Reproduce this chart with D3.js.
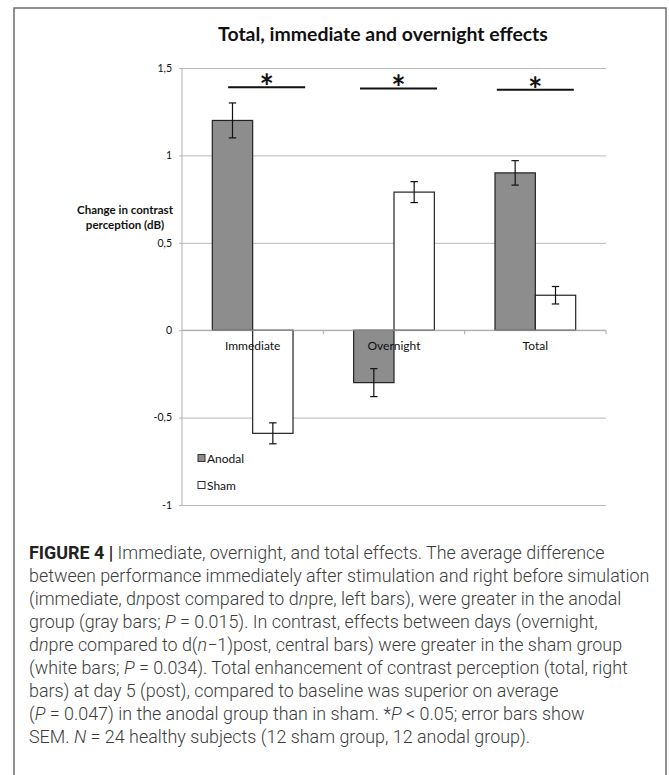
<!DOCTYPE html>
<meta charset="utf-8">
<style>
  html, body { margin: 0; padding: 0; background: #fff; }
  svg { display: block; }
  .chart text { font-family: Lato, "Open Sans", sans-serif; fill: #111; }
  .caption text { font-family: Roboto, "Liberation Sans", sans-serif; fill: #3c3c3c; }
</style>
<body>
<svg id="main" width="669" height="775"></svg>
<script src="https://cdn.jsdelivr.net/npm/d3@7"></script>
<script>

  // data
  const categories = ["Immediate", "Overnight", "Total"];
  const series = ["Anodal", "Sham"];
  const anodal = [1.2, -0.3, 0.9];
  const anodalErr = [0.1, 0.08, 0.07];
  const sham = [-0.59, 0.79, 0.2];
  const shamErr = [0.06, 0.06, 0.05];
  const yTicks = [-1, -0.5, 0, 0.5, 1, 1.5];
  const yTickLabels = ["-1", "-0,5", "0", "0,5", "1", "1,5"];
  const sigLevel = [1.39, 1.383, 1.375];
  const sigShift = [14, 4.5, 0];

  const title = "Total, immediate and overnight effects";
  const yLabel = ["Change in contrast", "perception (dB)"];

  // caption lines: [text, style] with style b = bold, i = italic
  const caption = [
    [["FIGURE 4 |", "b"], [" Immediate, overnight, and total effects. The average difference"]],
    [["between performance immediately after stimulation and right before simulation"]],
    [["(immediate, d"], ["n", "i"], ["post compared to d"], ["n", "i"], ["pre, left bars), were greater in the anodal"]],
    [["group (gray bars; "], ["P", "i"], [" = 0.015). In contrast, effects between days (overnight,"]],
    [["d"], ["n", "i"], ["pre compared to d("], ["n", "i"], ["\u22121)post, central bars) were greater in the sham group"]],
    [["(white bars; "], ["P", "i"], [" = 0.034). Total enhancement of contrast perception (total, right"]],
    [["bars) at day 5 (post), compared to baseline was superior on average"]],
    [["("], ["P", "i"], [" = 0.047) in the anodal group than in sham. *"], ["P", "i"], [" < 0.05; error bars show"]],
    [["SEM. "], ["N", "i"], [" = 24 healthy subjects (12 sham group, 12 anodal group)."]]
  ];

  const svg = d3.select("#main");

  // outer frame (open at the bottom of the window)
  svg.append("rect")
    .attr("x", 14).attr("y", 8)
    .attr("width", 652).attr("height", 820)
    .attr("fill", "#fff")
    .attr("stroke", "#6e6e6e")
    .attr("stroke-width", 1.5);

  const plotL = 182, plotR = 606, plotT = 68, plotB = 505;

  const y = d3.scaleLinear().domain([-1, 1.5]).range([plotB, plotT]);
  const x0 = d3.scaleBand().domain(categories).range([plotL, plotR]);
  const x1 = d3.scaleBand().domain(series).range([0, 80.7]);
  const off = (x0.bandwidth() - x1.range()[1]) / 2;

  const chart = svg.append("g").attr("class", "chart");

  // gridlines + y ticks
  chart.append("g")
    .attr("transform", `translate(${plotL},0)`)
    .call(d3.axisLeft(y).tickValues(yTicks).tickSize(-(plotR - plotL)).tickPadding(6)
      .tickFormat((d, i) => yTickLabels[i]))
    .call(g => g.select(".domain").remove())
    .call(g => g.selectAll(".tick line").attr("stroke", "#b8b8b8").attr("x1", -3))
    .call(g => g.selectAll(".tick text").attr("font-size", 10.5).attr("font-family", "Lato, sans-serif").attr("fill", "#111").attr("x", -10));

  // y axis line
  chart.append("line")
    .attr("x1", plotL).attr("x2", plotL)
    .attr("y1", y(1.5)).attr("y2", y(-1))
    .attr("stroke", "#b0b0b0");

  // bars
  const rows = categories.map((c, i) => [
    { cat: c, s: "Anodal", v: anodal[i], e: anodalErr[i] },
    { cat: c, s: "Sham", v: sham[i], e: shamErr[i] }
  ]).flat();

  const fill = { Anodal: "#8d8d8d", Sham: "#fff" };

  chart.selectAll(".bar")
    .data(rows)
    .join("rect")
    .attr("class", "bar")
    .attr("x", d => x0(d.cat) + off + x1(d.s))
    .attr("width", x1.bandwidth())
    .attr("y", d => y(Math.max(0, d.v)))
    .attr("height", d => Math.abs(y(d.v) - y(0)))
    .attr("fill", d => fill[d.s])
    .attr("stroke", "#222")
    .attr("stroke-width", 1.2);

  // category labels, on top of the bars
  chart.selectAll(".cat")
    .data(categories)
    .join("text")
    .attr("class", "cat")
    .attr("x", d => x0(d) + x0.bandwidth() / 2)
    .attr("y", y(0) + 20)
    .attr("text-anchor", "middle")
    .attr("font-size", 12)
    .text(d => d);

  // x axis line with boundary ticks
  chart.append("line")
    .attr("x1", plotL).attr("x2", plotR)
    .attr("y1", y(0)).attr("y2", y(0))
    .attr("stroke", "#a8a8a8");
  chart.selectAll(".xtick")
    .data(categories)
    .join("line")
    .attr("x1", d => x0(d) + x0.bandwidth()).attr("x2", d => x0(d) + x0.bandwidth())
    .attr("y1", y(0)).attr("y2", y(0) + 4)
    .attr("stroke", "#a8a8a8");

  // error bars
  const err = chart.selectAll(".err")
    .data(rows)
    .join("g")
    .attr("class", "err")
    .attr("transform", d => `translate(${x0(d.cat) + off + x1(d.s) + x1.bandwidth() / 2},0)`)
    .attr("stroke", "#111")
    .attr("stroke-width", 1.2);
  err.append("line").attr("y1", d => y(d.v + d.e)).attr("y2", d => y(d.v - d.e));
  err.append("line").attr("x1", -3.7).attr("x2", 3.7).attr("y1", d => y(d.v + d.e)).attr("y2", d => y(d.v + d.e));
  err.append("line").attr("x1", -3.7).attr("x2", 3.7).attr("y1", d => y(d.v - d.e)).attr("y2", d => y(d.v - d.e));

  // significance lines and stars
  const sig = chart.selectAll(".sig")
    .data(categories)
    .join("g")
    .attr("class", "sig")
    .attr("transform", (d, i) => `translate(${x0(d) + x0.bandwidth() / 2 + sigShift[i]},${y(sigLevel[i])})`);
  sig.append("line")
    .attr("x1", -38.5).attr("x2", 38.5)
    .attr("stroke", "#111").attr("stroke-width", 2);
  sig.append("text")
    .attr("text-anchor", "middle")
    .attr("y", 12)
    .attr("font-size", 34)
    .attr("font-weight", 700)
    .text("*");

  // legend
  const legend = chart.selectAll(".leg")
    .data(series)
    .join("g")
    .attr("class", "leg")
    .attr("transform", (d, i) => `translate(198,${458 + i * 27})`);
  legend.append("rect")
    .attr("x", 0).attr("y", -3.5)
    .attr("width", 7).attr("height", 7)
    .attr("fill", d => fill[d])
    .attr("stroke", "#333");
  legend.append("text")
    .attr("x", 9).attr("y", 4.5)
    .attr("font-size", 12)
    .text(d => d);

  // title
  const t = chart.append("text")
    .attr("x", 383).attr("y", 41)
    .attr("text-anchor", "middle")
    .attr("font-size", 18)
    .attr("font-weight", 700)
    .text(title);
  fitWidth(t, 330);

  // y label
  const yl = chart.append("g");
  yl.selectAll("text")
    .data(yLabel)
    .join("text")
    .attr("x", 125)
    .attr("y", (d, i) => 214 + i * 15)
    .attr("text-anchor", "middle")
    .attr("font-size", 11)
    .attr("font-weight", 700)
    .text(d => d);
  fitWidth(yl.select("text"), 96);
  yl.selectAll("text").attr("font-size", yl.select("text").attr("font-size"));

  // caption
  const cap = svg.append("g").attr("class", "caption");
  const capLines = cap.selectAll("text")
    .data(caption)
    .join("text")
    .attr("x", 29)
    .attr("y", (d, i) => 559 + i * 23)
    .attr("font-size", 17)
    .attr("font-weight", 300);
  capLines.selectAll("tspan")
    .data(d => d)
    .join("tspan")
    .attr("font-weight", d => d[1] === "b" ? 700 : null)
    .attr("fill", d => d[1] === "b" ? "#222" : null)
    .attr("font-style", d => d[1] === "i" ? "italic" : null)
    .text(d => d[0]);
  const ref = capLines.filter((d, i) => i === 1);
  const k = 621 / ref.node().getComputedTextLength();
  capLines.attr("font-size", 17 * k);

  function fitWidth(sel, w) {
    const cur = sel.node().getComputedTextLength();
    sel.attr("font-size", parseFloat(sel.attr("font-size")) * w / cur);
  }

</script>
</body>
